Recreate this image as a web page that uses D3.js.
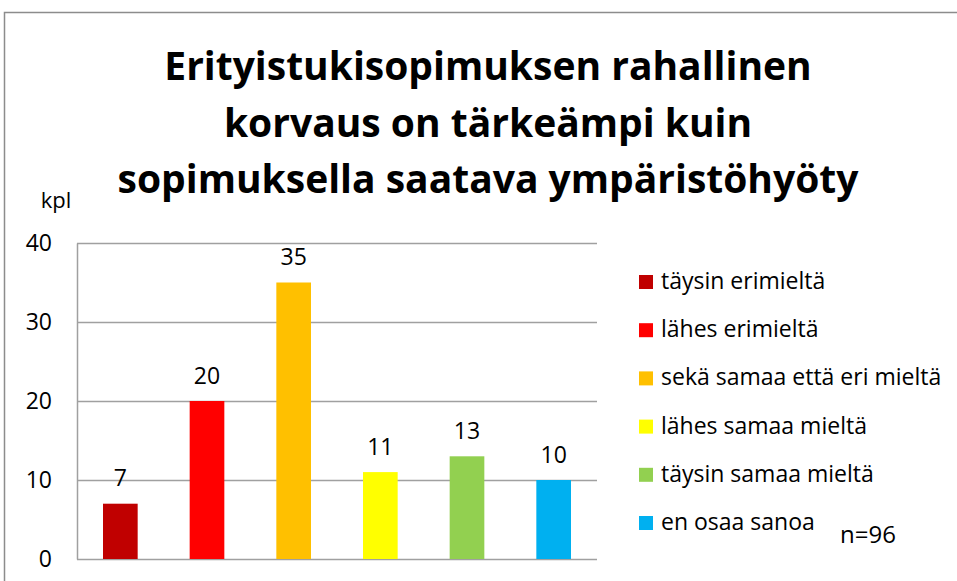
<!DOCTYPE html>
<html>
<head>
<meta charset="utf-8">
<script src="https://cdn.jsdelivr.net/npm/d3@7/dist/d3.min.js"></script>
<style>
  html, body { margin: 0; padding: 0; background: #fff; }
  svg { display: block; }
  text { font-family: "Open Sans", "Noto Sans", sans-serif; fill: #000; }
</style>
</head>
<body>
<svg id="chart" width="957" height="581"></svg>
<script>
// Survey answers (count of respondents)
const categories = [
  "täysin erimieltä",
  "lähes erimieltä",
  "sekä samaa että eri mieltä",
  "lähes samaa mieltä",
  "täysin samaa mieltä",
  "en osaa sanoa"
];
const counts = [7, 20, 35, 11, 13, 10];
const colors = ["#C00000", "#FF0000", "#FFC000", "#FFFF00", "#92D050", "#00B0F0"];
const yTicks = [0, 10, 20, 30, 40];
const titleLines = [
  "Erityistukisopimuksen rahallinen",
  "korvaus on tärkeämpi kuin",
  "sopimuksella saatava ympäristöhyöty"
];
const unitLabel = "kpl";
const sampleNote = "n=96";

const svg = d3.select("#chart");

// outer chart frame
svg.append("rect")
  .attr("x", 4.5).attr("y", 12.5)
  .attr("width", 980).attr("height", 600)
  .attr("fill", "none").attr("stroke", "#8c8c8c").attr("stroke-width", 1.5);

const plot = { left: 77, right: 597, top: 243, bottom: 559 };

const x = d3.scaleBand()
  .domain(categories)
  .range([plot.left, plot.right])
  .paddingInner(0.6)
  .paddingOuter(0.3);

const y = d3.scaleLinear()
  .domain([0, 40])
  .range([plot.bottom, plot.top]);

// gridlines
svg.append("g")
  .selectAll("line")
  .data(yTicks)
  .join("line")
  .attr("x1", plot.left).attr("x2", plot.right)
  .attr("y1", d => y(d) + 0.5).attr("y2", d => y(d) + 0.5)
  .attr("stroke", "#a0a0a0").attr("stroke-width", 1.5);

// y axis
const yAxis = svg.append("g")
  .attr("transform", `translate(${plot.left},0)`)
  .call(d3.axisLeft(y).tickValues(yTicks).tickSize(0).tickPadding(25));
yAxis.select(".domain").attr("stroke", "#a0a0a0").attr("stroke-width", 1.5);
yAxis.selectAll("text")
  .style("font-family", "'Open Sans', 'Noto Sans', sans-serif")
  .style("font-size", "23px")
  .attr("fill", "#000");

svg.append("text")
  .attr("x", 56).attr("y", 208)
  .attr("text-anchor", "middle")
  .style("font-size", "22px")
  .text(unitLabel);

// bars
const data = categories.map((c, i) => ({ c, v: counts[i], col: colors[i] }));
svg.append("g")
  .selectAll("rect")
  .data(data)
  .join("rect")
  .attr("x", d => x(d.c))
  .attr("width", x.bandwidth())
  .attr("y", d => y(d.v))
  .attr("height", d => y(0) - y(d.v))
  .attr("fill", d => d.col);

// value labels
svg.append("g")
  .selectAll("text")
  .data(data)
  .join("text")
  .attr("x", d => x(d.c) + x.bandwidth() / 2)
  .attr("y", d => y(d.v) - 17.5)
  .attr("text-anchor", "middle")
  .style("font-size", "23px")
  .attr("fill", "#222")
  .text(d => d.v);

// title
svg.append("g")
  .selectAll("text")
  .data(titleLines)
  .join("text")
  .attr("x", 488)
  .attr("y", (d, i) => 80 + i * 56.5)
  .attr("text-anchor", "middle")
  .style("font-size", "39px")
  .style("font-weight", "bold")
  .text(d => d);

// legend
const legend = svg.append("g")
  .selectAll("g")
  .data(data)
  .join("g")
  .attr("transform", (d, i) => `translate(639,${282 + i * 48.2})`);
legend.append("rect")
  .attr("x", 0).attr("y", -7)
  .attr("width", 14).attr("height", 14)
  .attr("fill", d => d.col);
legend.append("text")
  .attr("x", 22).attr("y", 7)
  .style("font-size", "23px")
  .text(d => d.c);

svg.append("text")
  .attr("x", 840).attr("y", 543)
  .style("font-size", "24px")
  .text(sampleNote);
</script>
</body>
</html>
